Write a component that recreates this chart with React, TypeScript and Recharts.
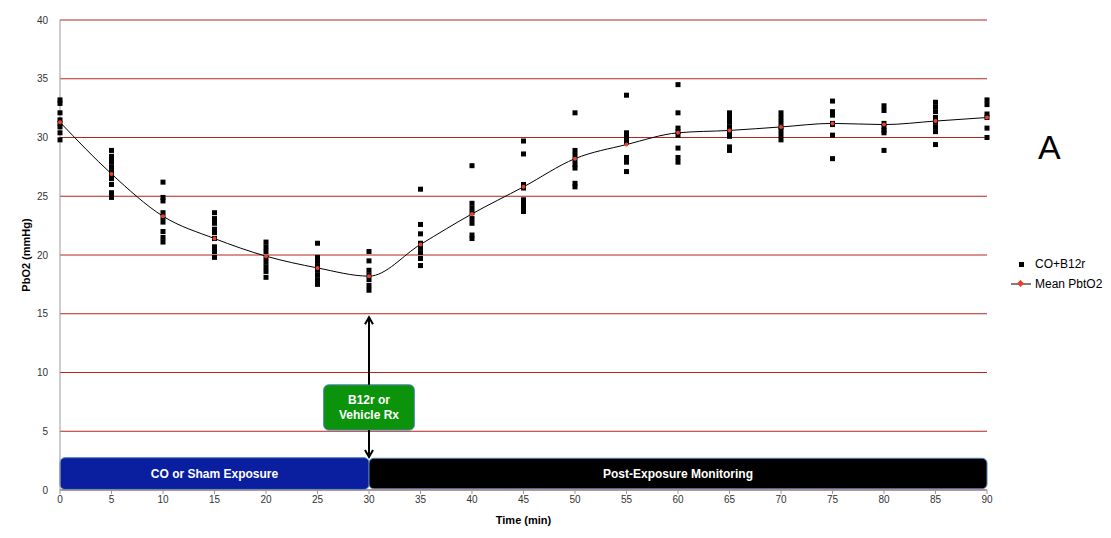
import React from 'react';
import {
  ComposedChart,
  Scatter,
  Line,
  XAxis,
  YAxis,
  CartesianGrid,
  ReferenceArea,
  ReferenceLine,
} from 'recharts';

// sampling times (min)
const times = [0, 5, 10, 15, 20, 25, 30, 35, 40, 45, 50, 55, 60, 65, 70, 75, 80, 85, 90];

// individual PbO2 readings per time point (CO+B12r)
const readings: number[][] = [
  [33.2, 32.9, 32.1, 31.5, 31.2, 30.9, 30.4, 29.8],
  [28.9, 28.4, 28.1, 27.9, 27.5, 27.1, 26.8, 26.5, 26.0, 25.3, 24.9],
  [26.2, 24.9, 24.6, 23.6, 23.2, 22.8, 22.0, 21.5, 21.1],
  [23.6, 23.1, 22.7, 22.2, 21.9, 21.4, 20.7, 20.3, 19.8],
  [21.1, 20.7, 20.3, 19.8, 19.4, 19.0, 18.6, 18.1],
  [21.0, 19.8, 19.5, 19.1, 18.7, 18.3, 17.9, 17.5],
  [20.3, 19.5, 18.7, 18.3, 17.9, 17.4, 17.0],
  [25.6, 22.6, 21.8, 21.0, 20.6, 20.2, 19.7, 19.1],
  [27.6, 24.4, 24.0, 23.6, 23.1, 22.7, 21.7, 21.4],
  [29.7, 28.6, 26.0, 25.7, 24.7, 24.3, 24.0, 23.7],
  [32.1, 28.9, 28.5, 28.1, 27.7, 27.4, 26.1, 25.8],
  [33.6, 30.4, 30.0, 29.6, 28.3, 27.9, 27.1],
  [34.5, 32.1, 30.8, 30.5, 30.2, 29.1, 28.3, 27.9],
  [32.1, 31.7, 31.3, 30.9, 30.5, 30.1, 29.2, 28.9],
  [32.1, 31.7, 31.3, 30.9, 30.6, 30.2, 29.8],
  [33.1, 32.2, 31.9, 31.2, 31.1, 30.2, 28.2],
  [32.7, 32.3, 31.2, 30.9, 30.6, 30.4, 28.9],
  [33.0, 32.6, 32.2, 31.7, 31.3, 30.9, 30.5, 29.4],
  [33.2, 32.8, 32.0, 31.7, 30.8, 30.0],
];

// mean PbtO2 per time point
const means = [31.3, 26.9, 23.3, 21.4, 19.9, 18.9, 18.2, 20.9, 23.5, 25.8, 28.2, 29.4, 30.4, 30.6, 30.9, 31.2, 31.1, 31.4, 31.7];

const yTicks = [0, 5, 10, 15, 20, 25, 30, 35, 40];

const scatterData = times.flatMap((t, i) => readings[i].map((v) => ({ t, v })));
const meanData = times.map((t, i) => ({ t, v: means[i] }));

const FONT = 'Liberation Sans, Arial, sans-serif';
const GRID_RED = '#b3261e';

const Square = (props: any) => {
  const { cx, cy } = props;
  if (cx == null || cy == null) return null;
  return <rect x={cx - 2.5} y={cy - 2.5} width={5} height={5} fill="#000" />;
};

const RoundBox = (fill: string, stroke: string) => (props: any) => {
  const { x, y, width, height } = props;
  return <rect x={x} y={y} width={width} height={height} rx={5} ry={5} fill={fill} stroke={stroke} strokeWidth={1} />;
};

const Arrow = (dir: 'up' | 'down') => (props: any) => {
  const { x1, y1, x2, y2 } = props;
  const tipY = dir === 'up' ? Math.min(y1, y2) : Math.max(y1, y2);
  const s = dir === 'up' ? 1 : -1;
  return (
    <g>
      <line x1={x1} y1={y1} x2={x2} y2={y2} stroke="#000" strokeWidth={2} />
      <polyline
        points={`${x1 - 4},${tipY + 7 * s} ${x1},${tipY} ${x1 + 4},${tipY + 7 * s}`}
        fill="none"
        stroke="#000"
        strokeWidth={2}
      />
    </g>
  );
};

const RxLabel = (props: any) => {
  const { viewBox } = props;
  const cx = viewBox.x + viewBox.width / 2;
  const cy = viewBox.y + viewBox.height / 2;
  return (
    <text x={cx} textAnchor="middle" fill="#fff" fontFamily={FONT} fontWeight={700} fontSize={12}>
      <tspan x={cx} y={cy - 3}>B12r or</tspan>
      <tspan x={cx} y={cy + 12}>Vehicle Rx</tspan>
    </text>
  );
};

export default function App() {
  return (
    <div style={{ position: 'relative', width: 1100, height: 530, fontFamily: FONT }}>
      <div style={{ position: 'absolute', left: -1, top: -1, width: 1, height: 523, background: '#c8c8c8' }} />
      <ComposedChart
        width={1100}
        height={530}
        margin={{ top: 12, right: 121, left: 0, bottom: 12 }}
      >
        <CartesianGrid horizontal vertical={false} stroke={GRID_RED} strokeWidth={1} />
        <XAxis
          dataKey="t"
          type="number"
          domain={[0, 90]}
          ticks={times}
          interval={0}
          height={36}
          axisLine={{ stroke: '#999' }}
          tickLine={{ stroke: '#999' }}
          tickSize={4}
          tick={{ fontSize: 10, fill: '#333', fontFamily: FONT }}
          label={{ value: 'Time (min)', position: 'insideBottom', offset: 2, fontSize: 11, fontWeight: 700, fill: '#000', fontFamily: FONT }}
        />
        <YAxis
          type="number"
          domain={[0, 40]}
          ticks={yTicks}
          interval={0}
          width={52}
          axisLine={{ stroke: '#999' }}
          tickLine={false}
          tickMargin={6}
          tick={{ fontSize: 10, fill: '#333', fontFamily: FONT }}
          label={{ value: 'PbO2 (mmHg)', angle: -90, position: 'insideLeft', offset: 18, fontSize: 11, fontWeight: 700, fill: '#000', fontFamily: FONT, style: { textAnchor: 'middle' } }}
        />
        <ReferenceArea
          x1={0}
          x2={30}
          y1={0.05}
          y2={2.75}
          shape={RoundBox('#0a1ea0', '#4f81bd')}
          label={{ value: 'CO or Sham Exposure', position: 'center', fill: '#fff', fontSize: 12, fontWeight: 700, fontFamily: FONT }}
        />
        <ReferenceArea
          x1={30}
          x2={90}
          y1={0.1}
          y2={2.7}
          shape={RoundBox('#000', '#4f81bd')}
          label={{ value: 'Post-Exposure Monitoring', position: 'center', fill: '#fff', fontSize: 12, fontWeight: 700, fontFamily: FONT }}
        />
        <ReferenceArea
          x1={25.6}
          x2={34.4}
          y1={5.1}
          y2={8.95}
          shape={RoundBox('#0b930b', '#4f81bd')}
          label={<RxLabel />}
        />
        <ReferenceLine segment={[{ x: 30, y: 8.95 }, { x: 30, y: 14.7 }]} shape={Arrow('up')} />
        <ReferenceLine segment={[{ x: 30, y: 5.1 }, { x: 30, y: 2.8 }]} shape={Arrow('down')} />
        <Scatter
          name="CO+B12r"
          data={scatterData}
          dataKey="v"
          shape={Square}
          isAnimationActive={false}
        />
        <Line
          name="Mean PbtO2"
          data={meanData}
          dataKey="v"
          type="monotone"
          stroke="#000"
          strokeWidth={1}
          dot={{ r: 2, fill: '#e8412c', stroke: 'none' }}
          activeDot={false}
          isAnimationActive={false}
        />
      </ComposedChart>
      <div style={{ position: 'absolute', left: 1030, top: 120, fontSize: 34, color: '#000' }}>A</div>
      <div style={{ position: 'absolute', left: 1003, top: 246, fontSize: 12, color: '#000', lineHeight: '20px' }}>
        <div style={{ display: 'flex', alignItems: 'center' }}>
          <span style={{ width: 20, display: 'inline-flex', justifyContent: 'center' }}>
            <span style={{ width: 5, height: 5, background: '#000' }} />
          </span>
          <span style={{ marginLeft: 4 }}>CO+B12r</span>
        </div>
        <div style={{ display: 'flex', alignItems: 'center' }}>
          <svg width={20} height={8}>
            <line x1={0} y1={4} x2={20} y2={4} stroke="#000" strokeWidth={1} />
            <rect x={7} y={1} width={5} height={5} fill="#e8412c" transform="rotate(45 9.5 3.5)" />
          </svg>
          <span style={{ marginLeft: 4 }}>Mean PbtO2</span>
        </div>
      </div>
    </div>
  );
}
